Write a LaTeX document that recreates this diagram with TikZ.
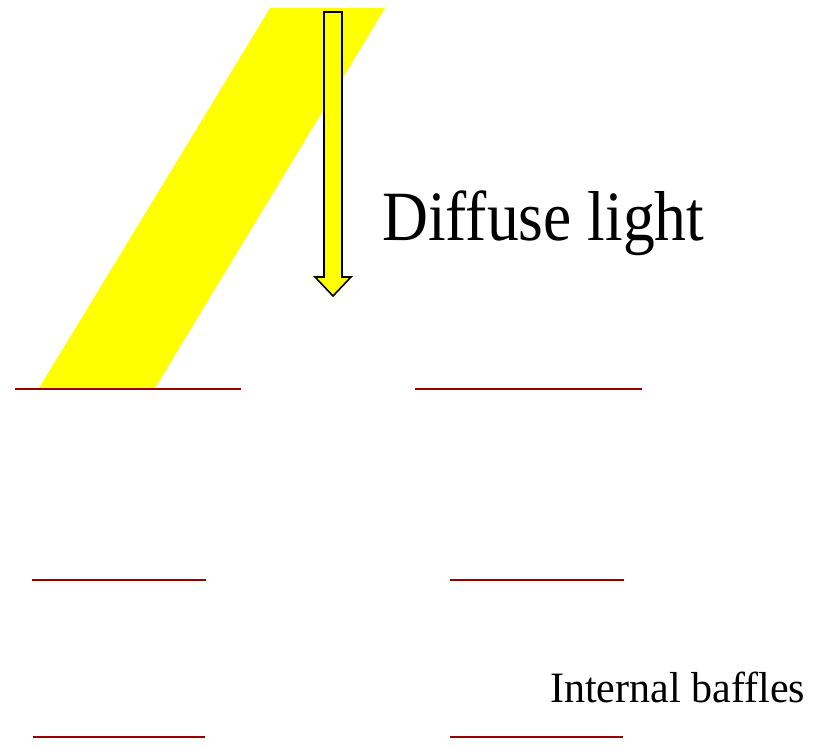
\documentclass[tikz,border=0pt]{standalone}
\usepackage{fontspec}
\newfontfamily\titlefont[FakeStretch=0.9]{Liberation Serif}
\newfontfamily\labelfont[FakeStretch=0.97]{Liberation Serif}
\usepackage{xcolor}
\definecolor{beam}{HTML}{FFFF00}
\definecolor{baffle}{HTML}{990000}
\usetikzlibrary{calc}

\begin{document}
\begin{tikzpicture}[x=0.75pt, y=-0.75pt,
  baffleline/.style={draw=baffle, line width=1.5pt}]

  \useasboundingbox (0,0) rectangle (823,745);

  % direct light beam
  \fill[beam] (270,8) -- (385,8) -- (155,388) -- (39,388) -- cycle;

  % diffuse light arrow
  \draw[fill=beam, line width=1.2pt, line join=miter]
    (324,12) -- (342,12) -- (342,277) -- (351,277) -- (333,296)
    -- (315,277) -- (324,277) -- cycle;

  \node[anchor=base west, inner sep=0pt, font=\titlefont\fontsize{53}{60}\selectfont]
    (diffuse) at (382,240) {Diffuse light};

  % baffles
  \draw[baffleline] (15,389) -- (241,389);
  \draw[baffleline] (415,389) -- (642,389);
  \draw[baffleline] (32,580) -- (206,580);
  \draw[baffleline] (450,580) -- (624,580);
  \draw[baffleline] (33,737) -- (205,737);
  \draw[baffleline] (450,737) -- (623,737);

  \node[anchor=base west, inner sep=0pt, font=\labelfont\fontsize{32.5}{40}\selectfont]
    (baffles) at (550,702) {Internal baffles};

\end{tikzpicture}
\end{document}
